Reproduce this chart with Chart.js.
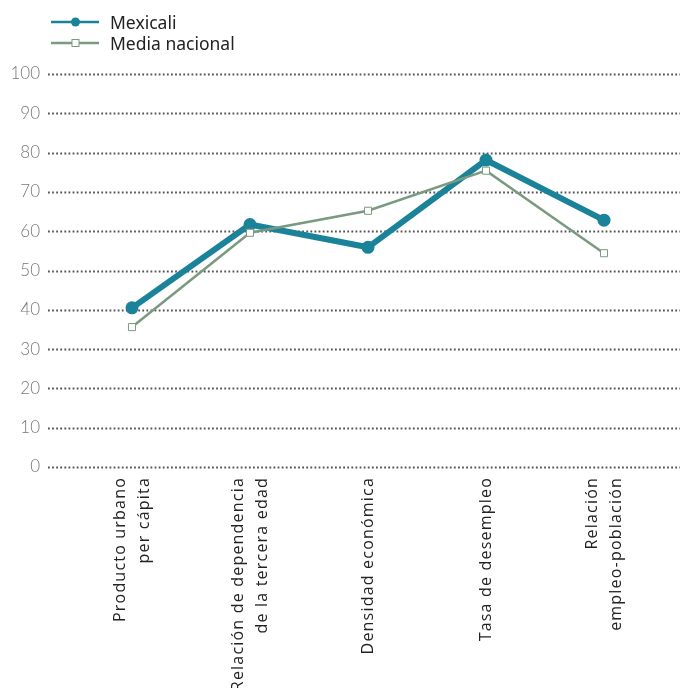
<!DOCTYPE html>
<html>
<head>
<meta charset="utf-8">
<script src="https://cdn.jsdelivr.net/npm/chart.js@4"></script>
<style>
  body { margin: 0; background: #fff; }
  #wrap { position: relative; width: 680px; height: 688px; }
  #legend { position: absolute; left: 51px; top: 11px; font-family: "Noto Sans", sans-serif; font-size: 17.5px; color: #222; }
  .item { display: flex; align-items: center; height: 21px; }
  .item svg { margin-right: 11px; }
</style>
</head>
<body>
<div id="wrap">
  <canvas id="chart" width="680" height="688"></canvas>
  <div id="legend"></div>
</div>
<script>
// Chart data
const categories = [
    ['Producto urbano', 'per cápita'],
    ['Relación de dependencia', 'de la tercera edad'],
    ['Densidad económica'],
    ['Tasa de desempleo'],
    ['Relación', 'empleo-población']
];
const mexicali = [40.5, 61.7, 55.9, 78.1, 62.8];
const mediaNacional = [35.6, 59.6, 65.2, 75.4, 54.4];
const yTicks = [0, 10, 20, 30, 40, 50, 60, 70, 80, 90, 100];

const tealColor = '#1b8399';
const greenColor = '#7a9a80';

// Dotted grid lines that run past the plot area, like the original
const dottedGrid = {
    id: 'dottedGrid',
    beforeDatasetsDraw(chart) {
        const ctx = chart.ctx;
        const y = chart.scales.y;
        ctx.save();
        ctx.strokeStyle = '#555';
        ctx.lineWidth = 1.8;
        ctx.setLineDash([1.8, 2.3]);
        yTicks.forEach(v => {
            const py = Math.round(y.getPixelForValue(v)) + 0.5;
            ctx.beginPath();
            ctx.moveTo(48, py);
            ctx.lineTo(chart.width, py);
            ctx.stroke();
        });
        ctx.restore();
    }
};

// Vertical category labels, each block centred on its tick
const verticalLabels = {
    id: 'verticalLabels',
    afterDraw(chart) {
        const ctx = chart.ctx;
        const x = chart.scales.x;
        const top = chart.chartArea.bottom + 10;
        const lineHeight = 24;
        ctx.save();
        ctx.fillStyle = '#222';
        ctx.font = '16px "Open Sans"';
        if ('letterSpacing' in ctx) ctx.letterSpacing = '1.2px';
        ctx.textAlign = 'right';
        ctx.textBaseline = 'middle';
        categories.forEach((lines, i) => {
            const px = x.getPixelForValue(i);
            const start = px - (lines.length - 1) * lineHeight / 2;
            lines.forEach((line, j) => {
                ctx.save();
                ctx.translate(start + j * lineHeight, top);
                ctx.rotate(-Math.PI / 2);
                ctx.fillText(line, 0, 0);
                ctx.restore();
            });
        });
        ctx.restore();
    }
};

const chart = new Chart(document.getElementById('chart'), {
    type: 'line',
    data: {
        labels: categories,
        datasets: [
            {
                label: 'Mexicali',
                data: mexicali,
                borderColor: tealColor,
                backgroundColor: tealColor,
                borderWidth: 6,
                pointRadius: 6.5,
                pointBorderWidth: 0,
                pointBackgroundColor: tealColor,
                order: 2
            },
            {
                label: 'Media nacional',
                data: mediaNacional,
                borderColor: greenColor,
                backgroundColor: '#fff',
                borderWidth: 2.5,
                pointStyle: 'rect',
                pointRadius: 5,
                pointBorderWidth: 1,
                pointBackgroundColor: '#fff',
                pointBorderColor: greenColor,
                order: 1
            }
        ]
    },
    options: {
        responsive: false,
        animation: false,
        layout: { padding: { top: 74, right: 17, left: 0, bottom: 0 } },
        plugins: {
            legend: { display: false },
            tooltip: { enabled: false }
        },
        scales: {
            x: {
                offset: true,
                grid: { display: false, drawTicks: false },
                border: { display: false },
                afterFit(scale) { scale.height = 221; },
                ticks: { display: false }
            },
            y: {
                min: 0,
                max: 100,
                grid: { display: false, drawTicks: false },
                border: { display: false },
                afterFit(scale) { scale.width = 73; },
                afterBuildTicks(scale) { scale.ticks = yTicks.map(v => ({ value: v })); },
                ticks: {
                    padding: 33,
                    color: '#777',
                    font: { family: 'Lato', size: 17, weight: 300 }
                }
            }
        }
    },
    plugins: [dottedGrid, verticalLabels]
});

// HTML legend built from the datasets
const legend = document.getElementById('legend');
chart.data.datasets.forEach(ds => {
    const item = document.createElement('div');
    item.className = 'item';
    const isRect = ds.pointStyle === 'rect';
    const marker = isRect
        ? `<rect x="21" y="5.5" width="7" height="7" fill="#fff" stroke="${ds.borderColor}" stroke-width="1"/>`
        : `<circle cx="24.5" cy="9" r="4.5" fill="${ds.borderColor}"/>`;
    item.innerHTML = `<svg width="48" height="18"><line x1="0" y1="9" x2="48" y2="9" stroke="${ds.borderColor}" stroke-width="2.5"/>${marker}</svg><span>${ds.label}</span>`;
    legend.appendChild(item);
});
</script>
</body>
</html>
